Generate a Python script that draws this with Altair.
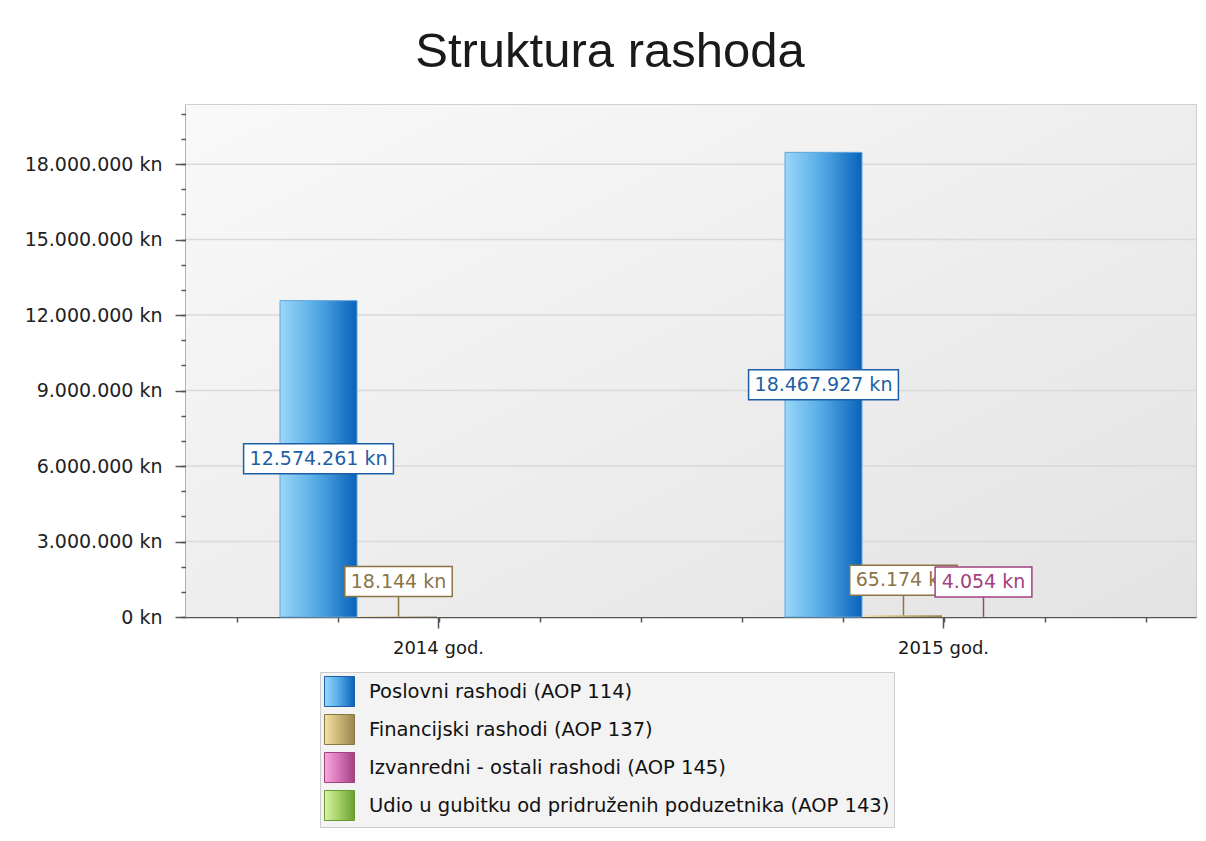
import altair as alt
import pandas as pd

# ---------------- data ----------------
years = ["2014 god.", "2015 god."]
series = [
    "Poslovni rashodi (AOP 114)",
    "Financijski rashodi (AOP 137)",
    "Izvanredni - ostali rashodi (AOP 145)",
    "Udio u gubitku od pridruženih poduzetnika (AOP 143)",
]
poslovni = [12574261, 18467927]
financijski = [18144, 65174]
izvanredni = [0, 4054]
udio = [0, 0]

y_ticks = [0, 3000000, 6000000, 9000000, 12000000, 15000000, 18000000]
y_minor = [i * 1000000 for i in range(0, 21)]
x_minor = [i + 0.5 for i in range(10)]
y_max = 20350000

# ---------------- styles ----------------
FONT = "DejaVu Sans"
label_colors = ["#1d5fa7", "#8b7545", "#a0427e", "#6b9b30"]
grad_light = ["#9ad7f9", "#f4e2a6", "#f6aade", "#dbf1a6"]
grad_mid = ["#58ade7", "#cdb878", "#d877bb", "#a6d267"]
grad_dark = ["#0862b9", "#9a8550", "#a3407f", "#6a9f31"]
bar_stroke = ["#5ea6de", "#b9a46a", "#c264a3", "#8cbf4f"]

rows = []
for s, vals in zip(series, [poslovni, financijski, izvanredni, udio]):
    for yr, v in zip(years, vals):
        rows.append({"year": yr, "series": s, "value": v})
df = pd.DataFrame(rows)


def grad(i):
    return alt.Gradient(
        gradient="linear",
        x1=0, y1=0, x2=1, y2=0,
        stops=[
            alt.GradientStop(color=grad_light[i], offset=0),
            alt.GradientStop(color=grad_mid[i], offset=0.45),
            alt.GradientStop(color=grad_dark[i], offset=1),
        ],
    )


def js_grad(i):
    return (
        "{gradient: 'linear', x1: 0, y1: 0, x2: 1, y2: 0, stops: ["
        f"{{offset: 0, color: '{grad_light[i]}'}}, "
        f"{{offset: 0.45, color: '{grad_mid[i]}'}}, "
        f"{{offset: 1, color: '{grad_dark[i]}'}}]}}"
    )


y_scale = alt.Scale(domain=[0, y_max], nice=False, zero=True)
y_axis = alt.Axis(
    values=y_ticks, title=None, orient="left", grid=False,
    tickSize=11, tickColor="#555555", tickWidth=1.5,
    domainColor="#555555", domainWidth=1.5,
    labelExpr="replace(format(datum.value, ',d'), regexp(',', 'g'), '.') + ' kn'",
    labelFont=FONT, labelFontSize=19, labelColor="#222222",
    labelPadding=13, labelOverlap=False,
)
x_scale = alt.Scale(domain=years, paddingInner=0.3663, paddingOuter=0.1832)
x_axis = alt.Axis(
    title=None, orient="bottom", grid=False, labelAngle=0,
    tickSize=11, tickColor="#555555", tickWidth=1.5,
    domainColor="#555555", domainWidth=1.5,
    labelFont=FONT, labelFontSize=18, labelColor="#1a1a1a", labelPadding=11,
)
xo_scale = alt.Scale(domain=series, paddingInner=0.0375, paddingOuter=0.01875)

legend = alt.Legend(
    title=None, orient="none", legendX=134, legendY=567, direction="vertical",
    symbolType="square", symbolSize=900, symbolOpacity=1, symbolStrokeWidth=1,
    symbolStrokeColor="rgba(0,0,0,0.28)",
    labelFont=FONT, labelFontSize=19.5, labelColor="#111111", labelOffset=14,
    labelLimit=1000, rowPadding=3, padding=4,
    fillColor="#f3f3f3", strokeColor="#cccccc",
)
color_enc = alt.Color("series:N", scale=alt.Scale(domain=series, range=label_colors), legend=None)
fill_enc = alt.Fill(
    "series:N",
    scale=alt.Scale(domain=series, range=[{"expr": js_grad(i)} for i in range(len(series))]),
    legend=legend,
)


def X():
    return alt.X("year:N", scale=x_scale, axis=x_axis)


def XO():
    return alt.XOffset("series:N", scale=xo_scale)


def Y(f):
    return alt.Y(f + ":Q", scale=y_scale, axis=y_axis)


# ---------------- layers ----------------
bg = alt.Chart(alt.Data(values=[{}])).mark_rect(
    color=alt.Gradient(
        gradient="linear", x1=0, y1=0, x2=1, y2=1,
        stops=[alt.GradientStop(color="#f9f9f9", offset=0),
               alt.GradientStop(color="#e3e3e3", offset=1)],
    )
).encode(x=alt.value(0), x2=alt.value("width"), y=alt.value(0), y2=alt.value("height"))

grid = alt.Chart(pd.DataFrame({"tick": y_ticks[1:]})).mark_rule(
    color="#d9d9d9", strokeWidth=1.5
).encode(y=Y("tick"))

layers = [bg, grid]
for i, s in enumerate(series):
    bar_kw = {"stroke": bar_stroke[i], "strokeWidth": 1} if i == 0 else {}
    layers.append(
        alt.Chart(df)
        .transform_filter((alt.datum.series == s) & (alt.datum.value > 0))
        .mark_bar(color=grad(i), **bar_kw)
        .encode(x=X(), xOffset=XO(), y=Y("value"))
    )

# legend carrier: invisible zero-size squares
layers.append(
    alt.Chart(df).mark_square(size=0, opacity=1).encode(
        x=X(), xOffset=XO(), y=Y("value"), fill=fill_enc
    )
)

base = alt.Chart(df).transform_calculate(
    label="replace(format(datum.value, ',d'), regexp(',', 'g'), '.') + ' kn'",
    half="datum.value / 2",
).transform_calculate(
    hw="(length(datum.label) * 10.6 + 12) / 2",
).transform_calculate(
    boxpath="'M' + (-datum.hw) + ',-15L' + datum.hw + ',-15L' + datum.hw + ',15L' + (-datum.hw) + ',15Z'",
)

for i, s in enumerate(series):
    big = base.transform_filter((alt.datum.series == s) & (alt.datum.value >= 1000000))
    small = base.transform_filter(
        (alt.datum.series == s) & (alt.datum.value > 0) & (alt.datum.value < 1000000)
    )
    layers.append(
        small.mark_rule(y2Offset=-20, strokeWidth=1.5).encode(
            x=X(), xOffset=XO(), y=Y("value"), y2=alt.Y2("value"), color=color_enc
        )
    )
    for sub, fld, off in [(big, "half", 0), (small, "value", -35)]:
        layers.append(
            sub.mark_point(filled=False, fill="white", opacity=1, strokeWidth=1.5, yOffset=off).encode(
                x=X(), xOffset=XO(), y=Y(fld),
                shape=alt.Shape("boxpath:N", scale=None), size=alt.value(4), color=color_enc,
            )
        )
        layers.append(
            sub.mark_text(font=FONT, fontSize=19, baseline="middle", align="center", yOffset=off).encode(
                x=X(), xOffset=XO(), y=Y(fld), text="label:N", color=color_enc
            )
        )

main = alt.layer(*layers)

minor = alt.Chart(df).transform_calculate(tx="0", ty="0").mark_point(opacity=0).encode(
    x=alt.X("tx:Q", scale=alt.Scale(domain=[0, 10], nice=False, zero=False),
            axis=alt.Axis(values=x_minor, labels=False, domain=False, grid=False, tickSize=5,
                          tickColor="#555555", tickWidth=1.5, title=None, orient="bottom")),
    y=alt.Y("ty:Q", scale=alt.Scale(domain=[0, y_max], nice=False, zero=True),
            axis=alt.Axis(values=y_minor, labels=False, domain=False, grid=False, tickSize=5,
                          tickColor="#555555", tickWidth=1.5, title=None, orient="left")),
)

chart = (
    alt.layer(main, minor)
    .resolve_scale(x="independent", y="independent")
    .properties(
        width=1010,
        height=512,
        title=alt.Title(
            "Struktura rashoda", font="Liberation Sans", fontSize=49, fontWeight="normal",
            color="#1a1a1a", anchor="middle", offset=28, dx=-81,
        ),
        padding={"left": 178, "top": 97, "right": 2, "bottom": 214},
        autosize=alt.AutoSizeParams(type="none"),
        background="white",
    )
    .configure_view(stroke="#d0d0d0", strokeWidth=2)
)

chart.save("out.html", embed_options={"renderer": "svg", "actions": False})
